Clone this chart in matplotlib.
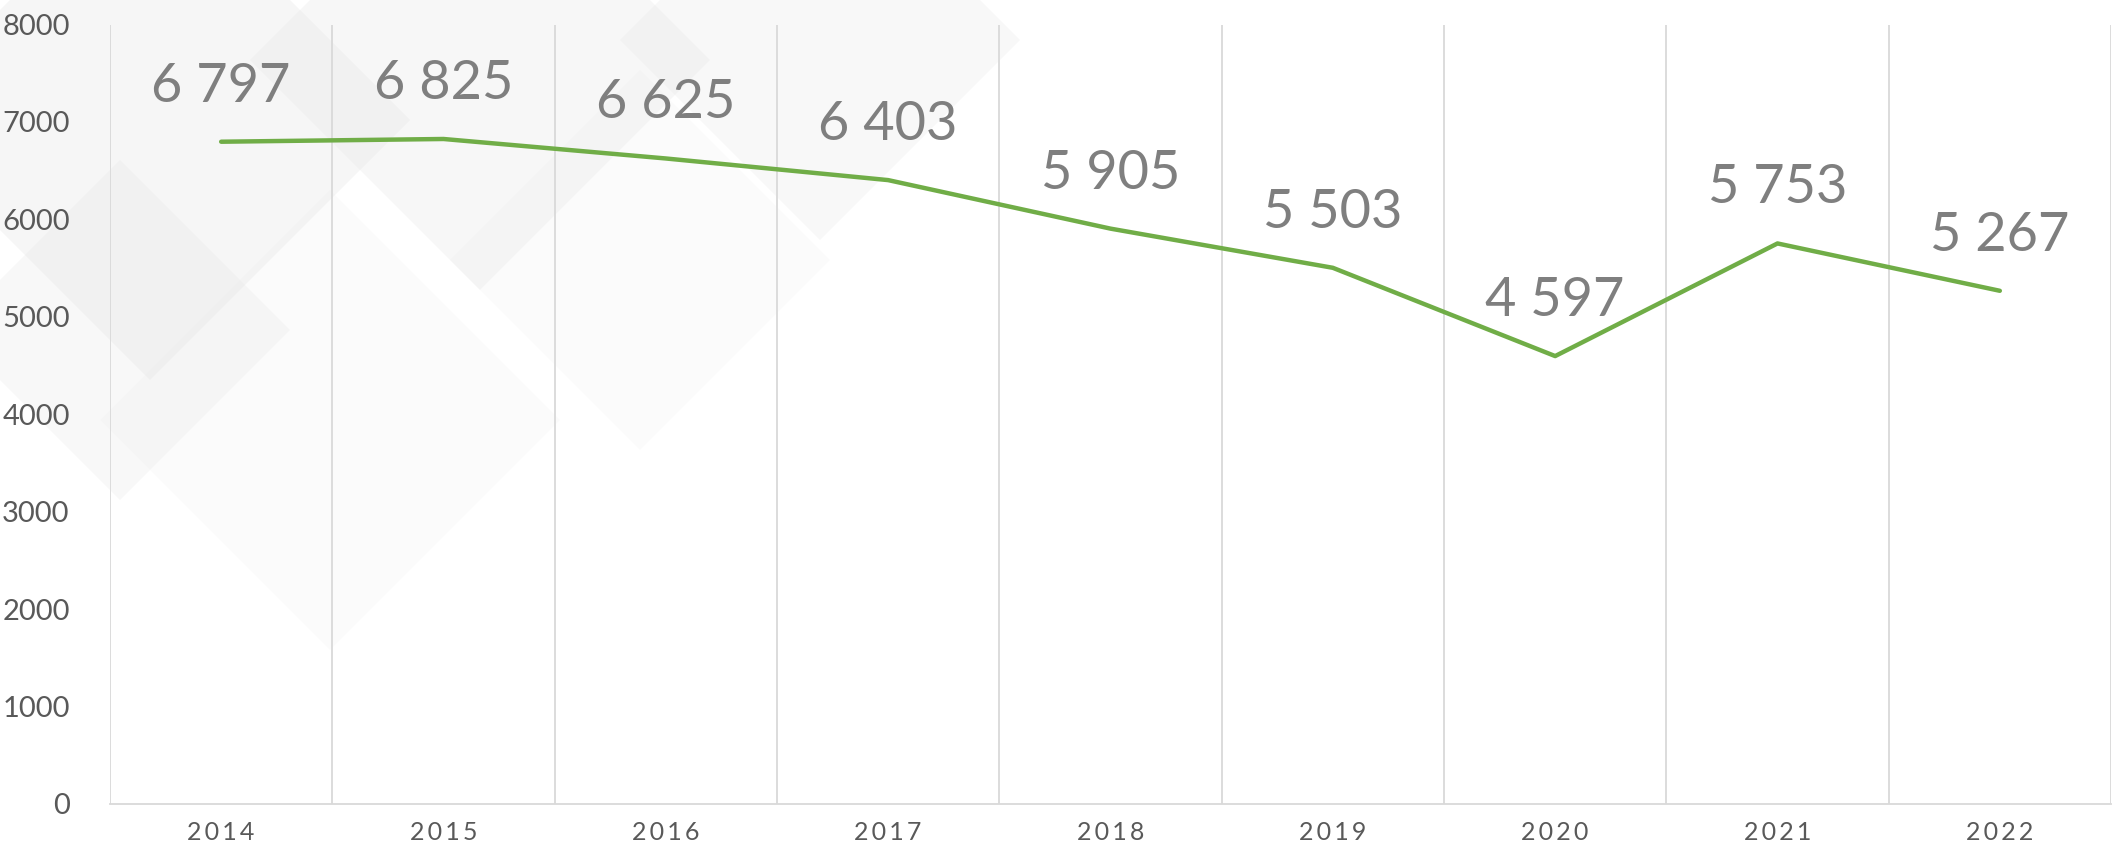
import matplotlib
matplotlib.use("Agg")
import matplotlib.pyplot as plt
from matplotlib.patches import Polygon

# data
years = ["2014", "2015", "2016", "2017", "2018", "2019", "2020", "2021", "2022"]
values = [6797, 6825, 6625, 6403, 5905, 5503, 4597, 5753, 5267]
yticks = [0, 1000, 2000, 3000, 4000, 5000, 6000, 7000, 8000]

plt.rcParams['font.family'] = ['Lato', 'DejaVu Sans']

fig = plt.figure(figsize=(21.12, 8.56), dpi=100)
fig.patch.set_facecolor("white")

# faint decorative diamonds in the background (figure coords)
bg = fig.add_axes([0, 0, 1, 1], zorder=0)
bg.set_xlim(0, 2112)
bg.set_ylim(856, 0)
bg.axis("off")
diamonds = [
    (150, 120, 260, 0.35),
    (480, 60, 230, 0.30),
    (820, 40, 200, 0.25),
    (330, 420, 230, 0.15),
    (120, 330, 170, 0.25),
    (640, 260, 190, 0.12),
]
for cx, cy, r, a in diamonds:
    bg.add_patch(Polygon([(cx - r, cy), (cx, cy - r), (cx + r, cy), (cx, cy + r)],
                         closed=True, facecolor="#e6e6e6", edgecolor="none", alpha=a))

ax = fig.add_axes([110 / 2112, 1 - 804 / 856, 2001 / 2112, (804 - 24.5) / 856], zorder=1)
ax.patch.set_alpha(0)

x = list(range(len(years)))
ax.plot(x, values, color="#70ad47", linewidth=3.2, solid_capstyle="round", zorder=3)

for xi, v in zip(x, values):
    ax.annotate(f"{v:,}".replace(",", " "), (xi, v), xytext=(0, 40), textcoords="offset points",
                ha="center", va="center", fontsize=39, color="#7f7f7f", zorder=4)

ax.set_xlim(-0.5, len(years) - 0.5)
ax.set_ylim(0, 8000)

# vertical gridlines at category boundaries
for b in range(len(years) + 1):
    ax.axvline(b - 0.5, color="#d9d9d9", linewidth=1.3, zorder=1)

for s in ["top", "right", "left"]:
    ax.spines[s].set_visible(False)
ax.spines["bottom"].set_color("#d9d9d9")
ax.spines["bottom"].set_linewidth(1.3)

ax.set_yticks(yticks)
ax.set_yticklabels([str(t) for t in yticks])
ax.set_xticks(x)
ax.set_xticklabels(["\u2009".join(y) for y in years])
ax.tick_params(axis="y", length=0, pad=29, labelsize=21, labelcolor="#595959")
ax.tick_params(axis="x", length=0, pad=12, labelsize=18, labelcolor="#595959")

fig.savefig("out.png", dpi=100)
